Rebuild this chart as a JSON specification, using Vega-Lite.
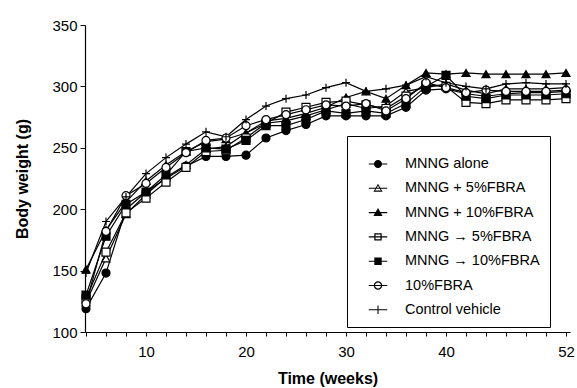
{
  "$schema": "https://vega.github.io/schema/vega-lite/v6.json",
  "width": 485,
  "height": 307,
  "autosize": {"type": "none"},
  "padding": {"left": 85, "top": 25, "right": 7, "bottom": 56},
  "background": "white",
  "config": {
    "view": {"stroke": null},
    "font": "Liberation Sans",
    "axis": {"domainColor": "black", "tickColor": "black", "labelColor": "black", "titleColor": "black", "grid": false, "labelFont": "Liberation Sans", "titleFont": "Liberation Sans", "labelFontSize": 15, "titleFontSize": 16, "titleFontWeight": "bold", "domainWidth": 1.2, "tickWidth": 1},
    "legend": {"orient": "none", "legendX": 262, "legendY": 111, "strokeColor": "black", "fillColor": "white", "padding": 10,
      "titleFontSize": 7, "titlePadding": 2, "symbolSize": 310, "symbolOffset": 12, "labelOffset": 18,
      "labelFontSize": 14.5, "labelFont": "Liberation Sans", "labelColor": "black", "rowPadding": 8.3,
      "symbolFillColor": "black", "symbolStrokeWidth": 0}
  },
  "data": {"values": [
    {"week":4,"series":"MNNG alone","weight":119},{"week":6,"series":"MNNG alone","weight":148},{"week":8,"series":"MNNG alone","weight":200},{"week":10,"series":"MNNG alone","weight":214},{"week":12,"series":"MNNG alone","weight":225},{"week":14,"series":"MNNG alone","weight":235},{"week":16,"series":"MNNG alone","weight":243},{"week":18,"series":"MNNG alone","weight":243},{"week":20,"series":"MNNG alone","weight":244},{"week":22,"series":"MNNG alone","weight":258},{"week":24,"series":"MNNG alone","weight":264},{"week":26,"series":"MNNG alone","weight":269},{"week":28,"series":"MNNG alone","weight":276},{"week":30,"series":"MNNG alone","weight":276},{"week":32,"series":"MNNG alone","weight":276},{"week":34,"series":"MNNG alone","weight":276},{"week":36,"series":"MNNG alone","weight":283},{"week":38,"series":"MNNG alone","weight":297},{"week":40,"series":"MNNG alone","weight":298},{"week":42,"series":"MNNG alone","weight":294},{"week":44,"series":"MNNG alone","weight":292},{"week":46,"series":"MNNG alone","weight":294},{"week":48,"series":"MNNG alone","weight":295},{"week":50,"series":"MNNG alone","weight":295},{"week":52,"series":"MNNG alone","weight":296},
    {"week":4,"series":"MNNG + 5%FBRA","weight":124},{"week":6,"series":"MNNG + 5%FBRA","weight":160},{"week":8,"series":"MNNG + 5%FBRA","weight":196},{"week":10,"series":"MNNG + 5%FBRA","weight":212},{"week":12,"series":"MNNG + 5%FBRA","weight":226},{"week":14,"series":"MNNG + 5%FBRA","weight":236},{"week":16,"series":"MNNG + 5%FBRA","weight":249},{"week":18,"series":"MNNG + 5%FBRA","weight":251},{"week":20,"series":"MNNG + 5%FBRA","weight":262},{"week":22,"series":"MNNG + 5%FBRA","weight":270},{"week":24,"series":"MNNG + 5%FBRA","weight":272},{"week":26,"series":"MNNG + 5%FBRA","weight":276},{"week":28,"series":"MNNG + 5%FBRA","weight":281},{"week":30,"series":"MNNG + 5%FBRA","weight":286},{"week":32,"series":"MNNG + 5%FBRA","weight":282},{"week":34,"series":"MNNG + 5%FBRA","weight":284},{"week":36,"series":"MNNG + 5%FBRA","weight":296},{"week":38,"series":"MNNG + 5%FBRA","weight":299},{"week":40,"series":"MNNG + 5%FBRA","weight":302},{"week":42,"series":"MNNG + 5%FBRA","weight":297},{"week":44,"series":"MNNG + 5%FBRA","weight":294},{"week":46,"series":"MNNG + 5%FBRA","weight":298},{"week":48,"series":"MNNG + 5%FBRA","weight":298},{"week":50,"series":"MNNG + 5%FBRA","weight":298},{"week":52,"series":"MNNG + 5%FBRA","weight":299},
    {"week":4,"series":"MNNG + 10%FBRA","weight":151},{"week":6,"series":"MNNG + 10%FBRA","weight":183},{"week":8,"series":"MNNG + 10%FBRA","weight":206},{"week":10,"series":"MNNG + 10%FBRA","weight":223},{"week":12,"series":"MNNG + 10%FBRA","weight":236},{"week":14,"series":"MNNG + 10%FBRA","weight":247},{"week":16,"series":"MNNG + 10%FBRA","weight":255},{"week":18,"series":"MNNG + 10%FBRA","weight":257},{"week":20,"series":"MNNG + 10%FBRA","weight":262},{"week":22,"series":"MNNG + 10%FBRA","weight":272},{"week":24,"series":"MNNG + 10%FBRA","weight":274},{"week":26,"series":"MNNG + 10%FBRA","weight":278},{"week":28,"series":"MNNG + 10%FBRA","weight":283},{"week":30,"series":"MNNG + 10%FBRA","weight":291},{"week":32,"series":"MNNG + 10%FBRA","weight":296},{"week":34,"series":"MNNG + 10%FBRA","weight":290},{"week":36,"series":"MNNG + 10%FBRA","weight":301},{"week":38,"series":"MNNG + 10%FBRA","weight":311},{"week":40,"series":"MNNG + 10%FBRA","weight":310},{"week":42,"series":"MNNG + 10%FBRA","weight":311},{"week":44,"series":"MNNG + 10%FBRA","weight":310},{"week":46,"series":"MNNG + 10%FBRA","weight":310},{"week":48,"series":"MNNG + 10%FBRA","weight":310},{"week":50,"series":"MNNG + 10%FBRA","weight":310},{"week":52,"series":"MNNG + 10%FBRA","weight":311},
    {"week":4,"series":"MNNG → 5%FBRA","weight":127},{"week":6,"series":"MNNG → 5%FBRA","weight":165},{"week":8,"series":"MNNG → 5%FBRA","weight":197},{"week":10,"series":"MNNG → 5%FBRA","weight":209},{"week":12,"series":"MNNG → 5%FBRA","weight":222},{"week":14,"series":"MNNG → 5%FBRA","weight":234},{"week":16,"series":"MNNG → 5%FBRA","weight":247},{"week":18,"series":"MNNG → 5%FBRA","weight":248},{"week":20,"series":"MNNG → 5%FBRA","weight":258},{"week":22,"series":"MNNG → 5%FBRA","weight":270},{"week":24,"series":"MNNG → 5%FBRA","weight":279},{"week":26,"series":"MNNG → 5%FBRA","weight":283},{"week":28,"series":"MNNG → 5%FBRA","weight":287},{"week":30,"series":"MNNG → 5%FBRA","weight":288},{"week":32,"series":"MNNG → 5%FBRA","weight":285},{"week":34,"series":"MNNG → 5%FBRA","weight":282},{"week":36,"series":"MNNG → 5%FBRA","weight":292},{"week":38,"series":"MNNG → 5%FBRA","weight":301},{"week":40,"series":"MNNG → 5%FBRA","weight":300},{"week":42,"series":"MNNG → 5%FBRA","weight":287},{"week":44,"series":"MNNG → 5%FBRA","weight":286},{"week":46,"series":"MNNG → 5%FBRA","weight":289},{"week":48,"series":"MNNG → 5%FBRA","weight":289},{"week":50,"series":"MNNG → 5%FBRA","weight":289},{"week":52,"series":"MNNG → 5%FBRA","weight":290},
    {"week":4,"series":"MNNG → 10%FBRA","weight":130},{"week":6,"series":"MNNG → 10%FBRA","weight":178},{"week":8,"series":"MNNG → 10%FBRA","weight":204},{"week":10,"series":"MNNG → 10%FBRA","weight":214},{"week":12,"series":"MNNG → 10%FBRA","weight":228},{"week":14,"series":"MNNG → 10%FBRA","weight":247},{"week":16,"series":"MNNG → 10%FBRA","weight":250},{"week":18,"series":"MNNG → 10%FBRA","weight":249},{"week":20,"series":"MNNG → 10%FBRA","weight":256},{"week":22,"series":"MNNG → 10%FBRA","weight":268},{"week":24,"series":"MNNG → 10%FBRA","weight":268},{"week":26,"series":"MNNG → 10%FBRA","weight":273},{"week":28,"series":"MNNG → 10%FBRA","weight":280},{"week":30,"series":"MNNG → 10%FBRA","weight":278},{"week":32,"series":"MNNG → 10%FBRA","weight":280},{"week":34,"series":"MNNG → 10%FBRA","weight":278},{"week":36,"series":"MNNG → 10%FBRA","weight":286},{"week":38,"series":"MNNG → 10%FBRA","weight":300},{"week":40,"series":"MNNG → 10%FBRA","weight":309},{"week":42,"series":"MNNG → 10%FBRA","weight":292},{"week":44,"series":"MNNG → 10%FBRA","weight":290},{"week":46,"series":"MNNG → 10%FBRA","weight":293},{"week":48,"series":"MNNG → 10%FBRA","weight":293},{"week":50,"series":"MNNG → 10%FBRA","weight":293},{"week":52,"series":"MNNG → 10%FBRA","weight":294},
    {"week":4,"series":"10%FBRA","weight":123},{"week":6,"series":"10%FBRA","weight":182},{"week":8,"series":"10%FBRA","weight":211},{"week":10,"series":"10%FBRA","weight":221},{"week":12,"series":"10%FBRA","weight":234},{"week":14,"series":"10%FBRA","weight":246},{"week":16,"series":"10%FBRA","weight":256},{"week":18,"series":"10%FBRA","weight":258},{"week":20,"series":"10%FBRA","weight":268},{"week":22,"series":"10%FBRA","weight":273},{"week":24,"series":"10%FBRA","weight":277},{"week":26,"series":"10%FBRA","weight":281},{"week":28,"series":"10%FBRA","weight":285},{"week":30,"series":"10%FBRA","weight":284},{"week":32,"series":"10%FBRA","weight":286},{"week":34,"series":"10%FBRA","weight":280},{"week":36,"series":"10%FBRA","weight":290},{"week":38,"series":"10%FBRA","weight":303},{"week":40,"series":"10%FBRA","weight":299},{"week":42,"series":"10%FBRA","weight":295},{"week":44,"series":"10%FBRA","weight":297},{"week":46,"series":"10%FBRA","weight":296},{"week":48,"series":"10%FBRA","weight":296},{"week":50,"series":"10%FBRA","weight":296},{"week":52,"series":"10%FBRA","weight":297},
    {"week":4,"series":"Control vehicle","weight":148},{"week":6,"series":"Control vehicle","weight":190},{"week":8,"series":"Control vehicle","weight":210},{"week":10,"series":"Control vehicle","weight":229},{"week":12,"series":"Control vehicle","weight":242},{"week":14,"series":"Control vehicle","weight":253},{"week":16,"series":"Control vehicle","weight":263},{"week":18,"series":"Control vehicle","weight":259},{"week":20,"series":"Control vehicle","weight":273},{"week":22,"series":"Control vehicle","weight":284},{"week":24,"series":"Control vehicle","weight":290},{"week":26,"series":"Control vehicle","weight":293},{"week":28,"series":"Control vehicle","weight":299},{"week":30,"series":"Control vehicle","weight":303},{"week":32,"series":"Control vehicle","weight":296},{"week":34,"series":"Control vehicle","weight":298},{"week":36,"series":"Control vehicle","weight":301},{"week":38,"series":"Control vehicle","weight":308},{"week":40,"series":"Control vehicle","weight":303},{"week":42,"series":"Control vehicle","weight":300},{"week":44,"series":"Control vehicle","weight":298},{"week":46,"series":"Control vehicle","weight":302},{"week":48,"series":"Control vehicle","weight":303},{"week":50,"series":"Control vehicle","weight":302},{"week":52,"series":"Control vehicle","weight":302}
  ]},
  "encoding": {
    "x": {"field": "week", "type": "quantitative", "title": "Time (weeks)",
      "scale": {"domain": [3.9, 52.4], "nice": false, "zero": false},
      "axis": {"values": [4,6,8,10,12,14,16,18,20,22,24,26,28,30,32,34,36,38,40,42,44,46,48,50,52], "labelExpr": "indexof([10,20,30,40,52], datum.value) >= 0 ? datum.label : ''", "tickSize": 4, "labelPadding": 8, "titlePadding": 11, "labelFlush": false, "labelOverlap": false}},
    "y": {"field": "weight", "type": "quantitative", "title": "Body weight (g)",
      "scale": {"domain": [100, 350], "nice": false, "zero": false},
      "axis": {"values": [100,150,200,250,300,350], "tickSize": 5, "labelPadding": 3, "titlePadding": 21}}
  },
  "layer": [
    {"mark": {"type": "line", "color": "black", "strokeWidth": 1.2},
     "encoding": {"detail": {"field": "series"}}},
    {"mark": {"type": "point", "stroke": "black", "strokeWidth": 1.2, "opacity": 1, "size": 64},
     "encoding": {
       "shape": {"field": "series", "type": "nominal", "legend": null,
         "scale": {"domain": ["MNNG alone","MNNG + 5%FBRA","MNNG + 10%FBRA","MNNG → 5%FBRA","MNNG → 10%FBRA","10%FBRA","Control vehicle"],
                   "range": ["circle","triangle-up","triangle-up","square","square","circle","M-1,0H1M0,-1V1"]}},
       "fill": {"field": "series", "type": "nominal", "legend": null,
         "scale": {"domain": ["MNNG alone","MNNG + 5%FBRA","MNNG + 10%FBRA","MNNG → 5%FBRA","MNNG → 10%FBRA","10%FBRA","Control vehicle"],
                   "range": ["black","white","black","white","black","white","black"]}}
     }},
    {"transform": [{"filter": "datum.week < 0"}],
     "mark": {"type": "point", "filled": true, "color": "black", "opacity": 1, "size": 60},
     "encoding": {
       "shape": {"field": "series", "type": "nominal", "title": " ",
         "scale": {"domain": ["MNNG alone","MNNG + 5%FBRA","MNNG + 10%FBRA","MNNG → 5%FBRA","MNNG → 10%FBRA","10%FBRA","Control vehicle"],
                   "range": [
                     "M-1.05,-0.06H1.05V0.06H-1.05ZM-0.46,0A0.46,0.46 0 1,1 0.46,0A0.46,0.46 0 1,1 -0.46,0Z",
                     "M-1.05,-0.06H1.05V0.06H-1.05ZM0,-0.52L0.52,0.38L-0.52,0.38ZM0,-0.3L-0.33,0.26L0.33,0.26Z",
                     "M-1.05,-0.06H1.05V0.06H-1.05ZM0,-0.52L0.52,0.38L-0.52,0.38Z",
                     "M-1.05,-0.06H1.05V0.06H-1.05ZM-0.42,-0.42H0.42V0.42H-0.42ZM-0.28,-0.28V0.28H0.28V-0.28Z",
                     "M-1.05,-0.06H1.05V0.06H-1.05ZM-0.42,-0.42H0.42V0.42H-0.42Z",
                     "M-1.05,-0.06H1.05V0.06H-1.05ZM-0.48,0A0.48,0.48 0 1,1 0.48,0A0.48,0.48 0 1,1 -0.48,0ZM-0.34,0A0.34,0.34 0 1,0 0.34,0A0.34,0.34 0 1,0 -0.34,0Z",
                     "M-1.05,-0.06H1.05V0.06H-1.05ZM-0.06,-0.48H0.06V0.48H-0.06Z"
                   ]},
         "legend": {"labelExpr": "datum.label + '\u00a0\u00a0'"}}
     }}
  ],
  "resolve": {"scale": {"shape": "independent"}}
}
